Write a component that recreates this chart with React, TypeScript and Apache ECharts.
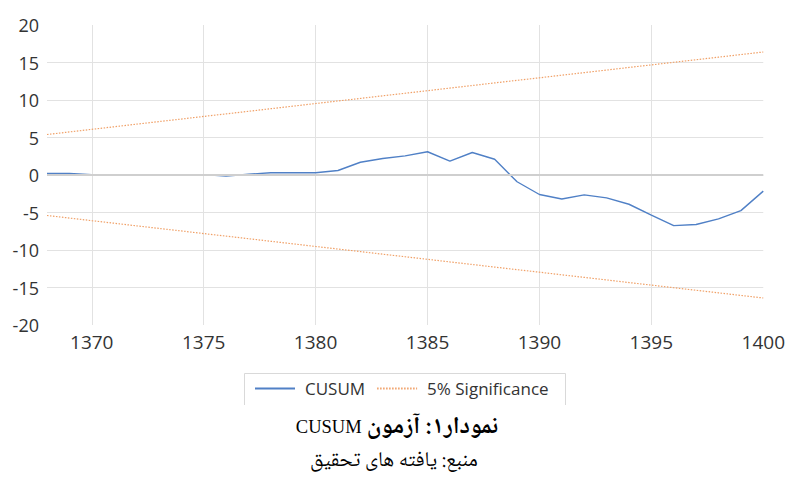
import React, { useEffect, useRef } from "react";
import * as echarts from "echarts";

const years = [
  "1368", "1369", "1370", "1371", "1372", "1373", "1374", "1375", "1376", "1377", "1378",
  "1379", "1380", "1381", "1382", "1383", "1384", "1385", "1386", "1387", "1388", "1389",
  "1390", "1391", "1392", "1393", "1394", "1395", "1396", "1397", "1398", "1399", "1400",
];

const cusum = [
  0.2, 0.2, 0.05, 0.05, 0.05, 0.05, 0.05, 0.05, -0.15, 0.1, 0.3,
  0.3, 0.3, 0.6, 1.7, 2.2, 2.55, 3.1, 1.85, 3.0, 2.1, -0.9,
  -2.6, -3.2, -2.65, -3.05, -3.9, -5.35, -6.75, -6.6, -5.85, -4.75, -2.15,
];

const upper5 = [
  5.4, 5.74, 6.09, 6.43, 6.78, 7.12, 7.46, 7.81, 8.15, 8.49, 8.84,
  9.18, 9.53, 9.87, 10.21, 10.56, 10.9, 11.24, 11.59, 11.93, 12.28, 12.62,
  12.96, 13.31, 13.65, 13.99, 14.34, 14.68, 15.03, 15.37, 15.71, 16.06, 16.4,
];

const lower5 = [
  -5.4, -5.74, -6.09, -6.43, -6.78, -7.12, -7.46, -7.81, -8.15, -8.49, -8.84,
  -9.18, -9.53, -9.87, -10.21, -10.56, -10.9, -11.24, -11.59, -11.93, -12.28, -12.62,
  -12.96, -13.31, -13.65, -13.99, -14.34, -14.68, -15.03, -15.37, -15.71, -16.06, -16.4,
];

const yTicks = { min: -20, max: 20, interval: 5 };
const legendNames = ["CUSUM", "5% Significance"];
const titleLatin = "CUSUM";
const titlePersian = "نمودار۱: آزمون";
const sourceText = "منبع: یافته های تحقیق";

const AXIS_FONT = "'Open Sans', 'Segoe UI', sans-serif";
const FA_FONT = "'B Nazanin', 'Noto Naskh Arabic', 'Noto Sans Arabic', 'DejaVu Sans', serif";
const ORANGE = "#f0a067";
const BLUE = "#5080c6";

export default function App() {
  const ref = useRef<HTMLDivElement>(null);

  useEffect(() => {
    if (!ref.current) return;
    const chart = echarts.init(ref.current, null, { renderer: "svg" });
    const lastIdx = years.length - 1;
    const option: any = {
      animation: false,
      backgroundColor: "#ffffff",
      grid: { left: 47, right: 24, top: 25, bottom: 154, containLabel: false },
      legend: {
        data: legendNames,
        left: 244,
        top: 375,
        padding: [5, 10],
        itemWidth: 40,
        itemHeight: 2,
        itemGap: 11,
        itemStyle: { opacity: 0 },
        textStyle: {
          fontFamily: AXIS_FONT,
          fontSize: 17,
          color: "#333333",
          padding: [0, 0, 0, 5],
        },
      },
      xAxis: {
        type: "category",
        data: years,
        boundaryGap: false,
        axisLine: { show: false },
        axisTick: { show: false },
        axisLabel: {
          interval: (i: number, v: string) => Number(v) % 5 === 0,
          margin: 7,
          fontFamily: AXIS_FONT,
          fontSize: 19,
          color: "#333333",
        },
        splitLine: {
          show: true,
          interval: (i: number, v: string) => Number(v) % 5 === 0 && i !== lastIdx,
          lineStyle: { color: "#e2e2e2", width: 1 },
        },
      },
      yAxis: {
        type: "value",
        min: yTicks.min,
        max: yTicks.max,
        interval: yTicks.interval,
        axisLine: { show: false },
        axisTick: { show: false },
        axisLabel: {
          margin: 8,
          fontFamily: AXIS_FONT,
          fontSize: 18,
          color: "#333333",
        },
        splitLine: {
          show: true,
          showMinLine: false,
          showMaxLine: false,
          lineStyle: { color: "#e2e2e2", width: 1 },
        },
      },
      series: [
        {
          name: "5% Significance",
          type: "line",
          data: upper5,
          symbol: "none",
          showSymbol: false,
          z: 1,
          lineStyle: { color: ORANGE, width: 1.2, type: [1.5, 1.5] },
          itemStyle: { color: ORANGE },
          markLine: {
            silent: true,
            symbol: "none",
            label: { show: false },
            lineStyle: { color: "#cfcfcf", width: 2, type: "solid" },
            data: [{ yAxis: 0 }],
          },
        },
        {
          name: "5% Significance",
          type: "line",
          data: lower5,
          symbol: "none",
          showSymbol: false,
          z: 1,
          lineStyle: { color: ORANGE, width: 1.2, type: [1.5, 1.5] },
          itemStyle: { color: ORANGE },
        },
        {
          name: "CUSUM",
          type: "line",
          data: cusum,
          symbol: "none",
          showSymbol: false,
          z: 3,
          lineStyle: { color: BLUE, width: 1.4 },
          itemStyle: { color: BLUE },
        },
      ],
      graphic: [
        {
          type: "polyline",
          silent: true,
          shape: { points: [[244.5, 405], [244.5, 373.5], [565.5, 373.5], [565.5, 405]] },
          style: { stroke: "#d9d9d9", fill: null, lineWidth: 1 },
        },
        {
          type: "text",
          x: 397,
          y: 427,
          style: {
            text: "{a|" + titleLatin + "} {b|" + titlePersian + "}",
            align: "center",
            verticalAlign: "middle",
            rich: {
              a: { fontFamily: "'Liberation Serif', 'Times New Roman', serif", fontSize: 18.5, fill: "#000" },
              b: { fontFamily: FA_FONT, fontSize: 24, fontWeight: "bold", fill: "#000" },
            },
            fontSize: 18,
            fill: "#000",
          },
        },
        {
          type: "text",
          x: 394,
          y: 461,
          style: {
            text: sourceText,
            align: "center",
            verticalAlign: "middle",
            fontFamily: FA_FONT,
            fontSize: 21,
            lineHeight: 24,
            fill: "#000",
          },
        },
      ],
    };
    chart.setOption(option);
    return () => chart.dispose();
  }, []);

  return (
    <div
      ref={ref}
      style={{ position: "fixed", left: 0, top: 0, width: 788, height: 479, background: "#fff" }}
    />
  );
}
